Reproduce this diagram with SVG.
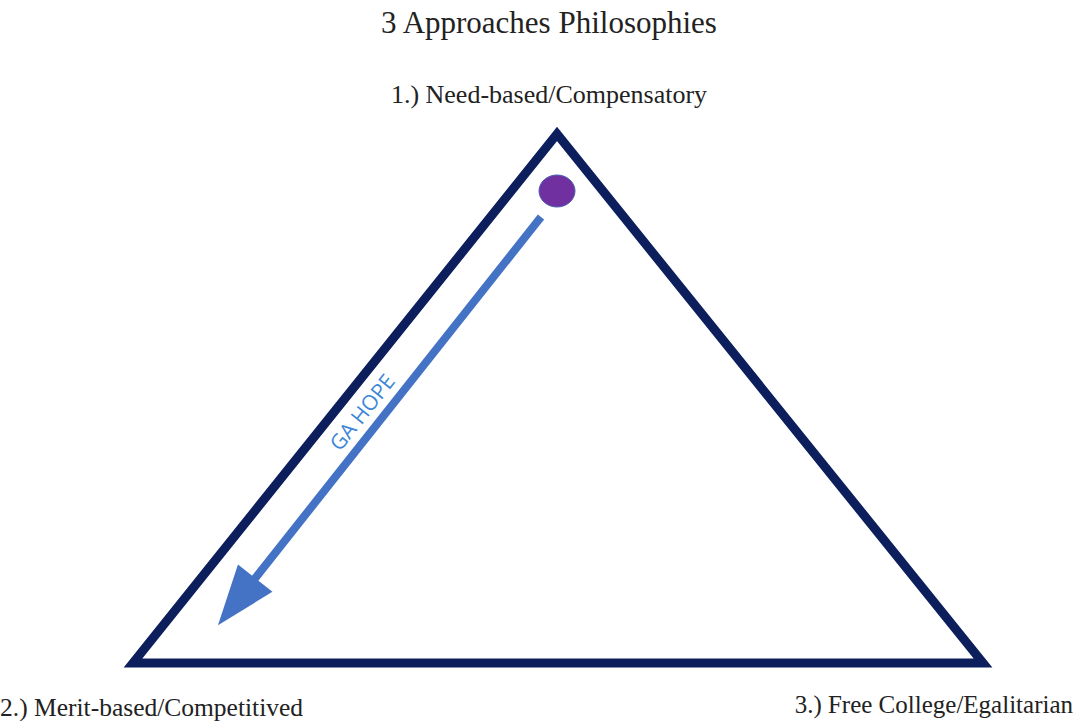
<svg xmlns="http://www.w3.org/2000/svg" width="1078" height="721" viewBox="0 0 1078 721">
  <style>
    .label { font-family: "Liberation Serif", "Times New Roman", serif; fill: #222; }
    .tri { fill: none; stroke: #0c1f5c; stroke-width: 9; stroke-linejoin: miter; }
    .flow { stroke: #4472c4; stroke-width: 8; fill: none; }
    .flow-label { font-family: "Open Sans", "Liberation Sans", sans-serif; font-size: 21px; fill: #3d87d6; }
  </style>
  <defs>
    <marker id="arrowhead" markerUnits="userSpaceOnUse" markerWidth="80" markerHeight="60" refX="0" refY="0" viewBox="-20 -30 80 60" orient="auto">
      <path d="M -10 -22 L 50 0 L -10 22 Z" fill="#4472c4"/>
    </marker>
  </defs>

  <rect width="1078" height="721" fill="#ffffff"/>

  <text class="label" x="549" y="33" font-size="31" text-anchor="middle">3 Approaches Philosophies</text>

  <g id="triangle">
    <polygon class="tri" points="557,134 133,663 983,663"/>
  </g>

  <g id="node-need">
    <text class="label" x="549" y="103" font-size="26" text-anchor="middle">1.) Need-based/Compensatory</text>
    <ellipse cx="557" cy="191" rx="18" ry="16" fill="#7030a0" stroke="#4a5fb0" stroke-width="1"/>
  </g>
  <g id="node-merit">
    <text class="label" x="0" y="716" font-size="25.5">2.) Merit-based/Competitived</text>
  </g>
  <g id="node-free">
    <text class="label" x="1073" y="713" font-size="25" text-anchor="end">3.) Free College/Egalitarian</text>
  </g>

  <g id="connectors">
    <line class="flow" x1="541" y1="217" x2="249" y2="586" marker-end="url(#arrowhead)"/>
    <text class="flow-label" transform="translate(368,417) rotate(-51.6)" text-anchor="middle">GA HOPE</text>
  </g>
</svg>
